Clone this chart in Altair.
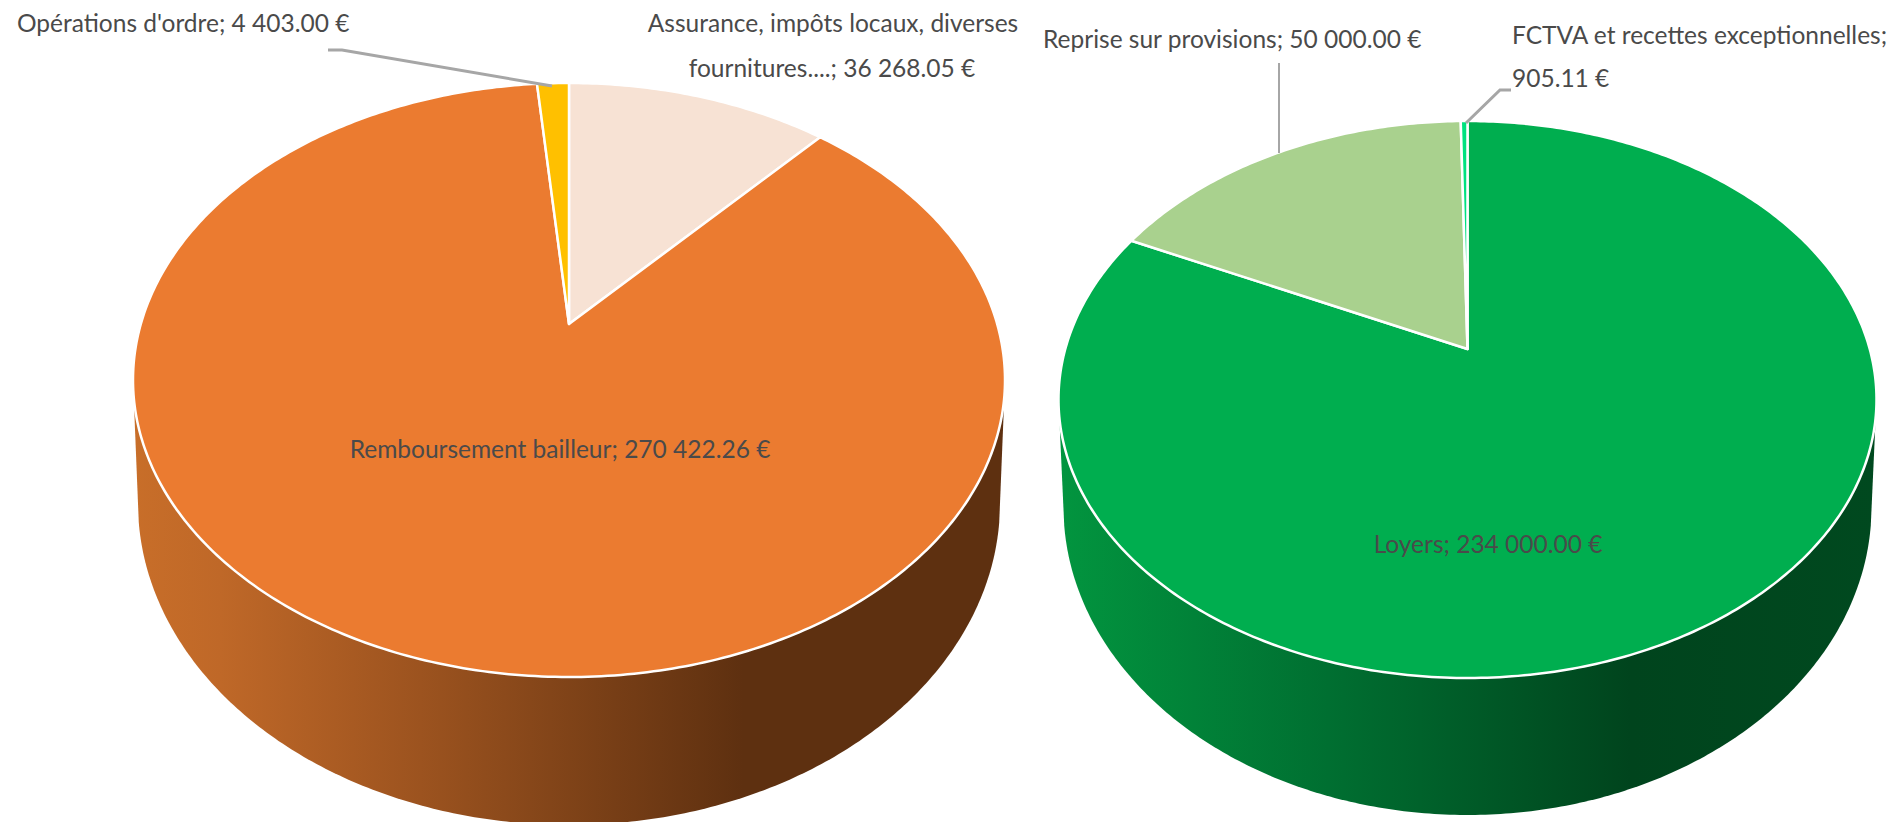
import numpy as np
import pandas as pd
import altair as alt

# ---- data ----
left_names = ["Assurance", "Remboursement bailleur", "Opérations d'ordre"]
left_values = [36268.05, 270422.26, 4403.00]
left_colors = ["#F7E2D4", "#EB7B30", "#FFC000"]

right_names = ["Loyers", "Reprise sur provisions", "FCTVA"]
right_values = [234000.00, 50000.00, 905.11]
right_colors = ["#00AE4F", "#A9D18E", "#00E27F"]

label_text = ["Opérations d'ordre; 4 403.00 €", "Assurance, impôts locaux, diverses",
              "fournitures....; 36 268.05 €", "Remboursement bailleur; 270 422.26 €",
              "Reprise sur provisions; 50 000.00 €", "FCTVA et recettes exceptionnelles;",
              "905.11 €", "Loyers; 234 000.00 €"]
label_x = [17, 833, 832, 560, 1043, 1512, 1512, 1488]
label_y = [25, 25, 70, 451, 41, 37, 80, 546]
label_align = ["left", "center", "center", "center", "left", "left", "left", "center"]

FONT = "Lato"
W, H = 1881, 814
x_scale = alt.Scale(domain=[8, 8 + W], range=[0, W], nice=False, zero=False)
y_scale = alt.Scale(domain=[8, 8 + H], range=[0, H], nice=False, zero=False)


def top_point(theta, g):
    """Circle angle -> point of the tilted pie's top face (perspective map)."""
    cx, rx, top, bot, apex = g
    k = (2 * apex - top - bot) / (top - bot)
    b = (bot * (1 - k) - top * (1 + k)) / 2
    a = rx * np.sqrt(1 - k * k)
    u, v = np.sin(theta), np.cos(theta)
    d = 1 + k * v
    return cx + a * u / d, (apex - b * v) / d


def slices(values, g):
    total = sum(values)
    edges = np.cumsum([0] + list(values)) / total * 2 * np.pi
    out = []
    for i in range(len(values)):
        n = max(4, int((edges[i + 1] - edges[i]) * 80))
        t = np.linspace(edges[i], edges[i + 1], n)
        xs, ys = top_point(t, g)
        px = [g[0]] + list(xs)
        py = [g[4]] + list(ys)
        out.append(pd.DataFrame({"x": px, "y": py, "i": range(len(px))}))
    return out


def poly(df, **mark):
    return alt.Chart(df).mark_line(interpolate="linear-closed", clip=True, **mark).encode(
        x=alt.X("x:Q", scale=x_scale, axis=None),
        y=alt.Y("y:Q", scale=y_scale, axis=None),
        order="i:Q",
    )


def side(g, cx, rx, cy, ry, stops):
    s = np.arcsin(0.06)
    t = np.linspace(s, np.pi - s, 240)
    top_y = (g[2] + g[3]) / 2
    xs = [cx + g[1]] + list(cx + rx * np.cos(t)) + [cx - g[1]]
    ys = [top_y] + list(cy + ry * np.sin(t)) + [top_y]
    df = pd.DataFrame({"x": xs, "y": ys, "i": range(len(xs))})
    grad = {"gradient": "linear", "x1": 0, "y1": 0, "x2": 1, "y2": 0,
            "stops": [{"offset": o, "color": c} for o, c in stops]}
    return poly(df, fill=grad, strokeWidth=0, stroke="transparent")


L = (569, 436, 83, 677, 324)
R = (1467.5, 409, 121, 678, 349)

layers = [
    side(L, 569, 431, 503, 322, [(0, "#C86E29"), (0.1, "#BF6828"), (0.33, "#9C531F"),
                                 (0.7, "#5E3010"), (1, "#5E3010")]),
    side(R, 1467.5, 404, 507, 308, [(0, "#02953F"), (0.33, "#006F31"),
                                    (0.7, "#00441D"), (1, "#00491F")]),
]
for values, colors, g in [(left_values, left_colors, L), (right_values, right_colors, R)]:
    for df, c in zip(slices(values, g), colors):
        layers.append(poly(df, fill=c, stroke="white", strokeWidth=2.5, strokeJoin="round"))

leader_x = [[328, 342, 552], [1279, 1279], [1511, 1500, 1466]]
leader_y = [[50, 50, 86], [63, 153], [90, 90, 123]]
leader_w = [3, 2, 3]
for lx, ly, lw in zip(leader_x, leader_y, leader_w):
    d = pd.DataFrame({"x": lx, "y": ly, "i": range(len(lx))})
    layers.append(alt.Chart(d).mark_line(color="#A6A6A6", strokeWidth=lw).encode(
        x=alt.X("x:Q", scale=x_scale, axis=None),
        y=alt.Y("y:Q", scale=y_scale, axis=None),
        order="i:Q"))

for al in ["left", "center"]:
    d = pd.DataFrame({"t": label_text, "x": label_x, "y": label_y, "a": label_align})
    d = d[d.a == al]
    layers.append(alt.Chart(d).mark_text(font=FONT, fontSize=24.5, color="#4A4A4A", align=al,
                                         baseline="middle").encode(
        x=alt.X("x:Q", scale=x_scale, axis=None),
        y=alt.Y("y:Q", scale=y_scale, axis=None),
        text="t:N"))

chart = alt.layer(*layers).properties(
    width=W, height=H, padding=0, autosize=alt.AutoSizeParams(type="none")
).configure_view(stroke=None)

chart.save("out.html", embed_options={"renderer": "svg", "actions": False})
